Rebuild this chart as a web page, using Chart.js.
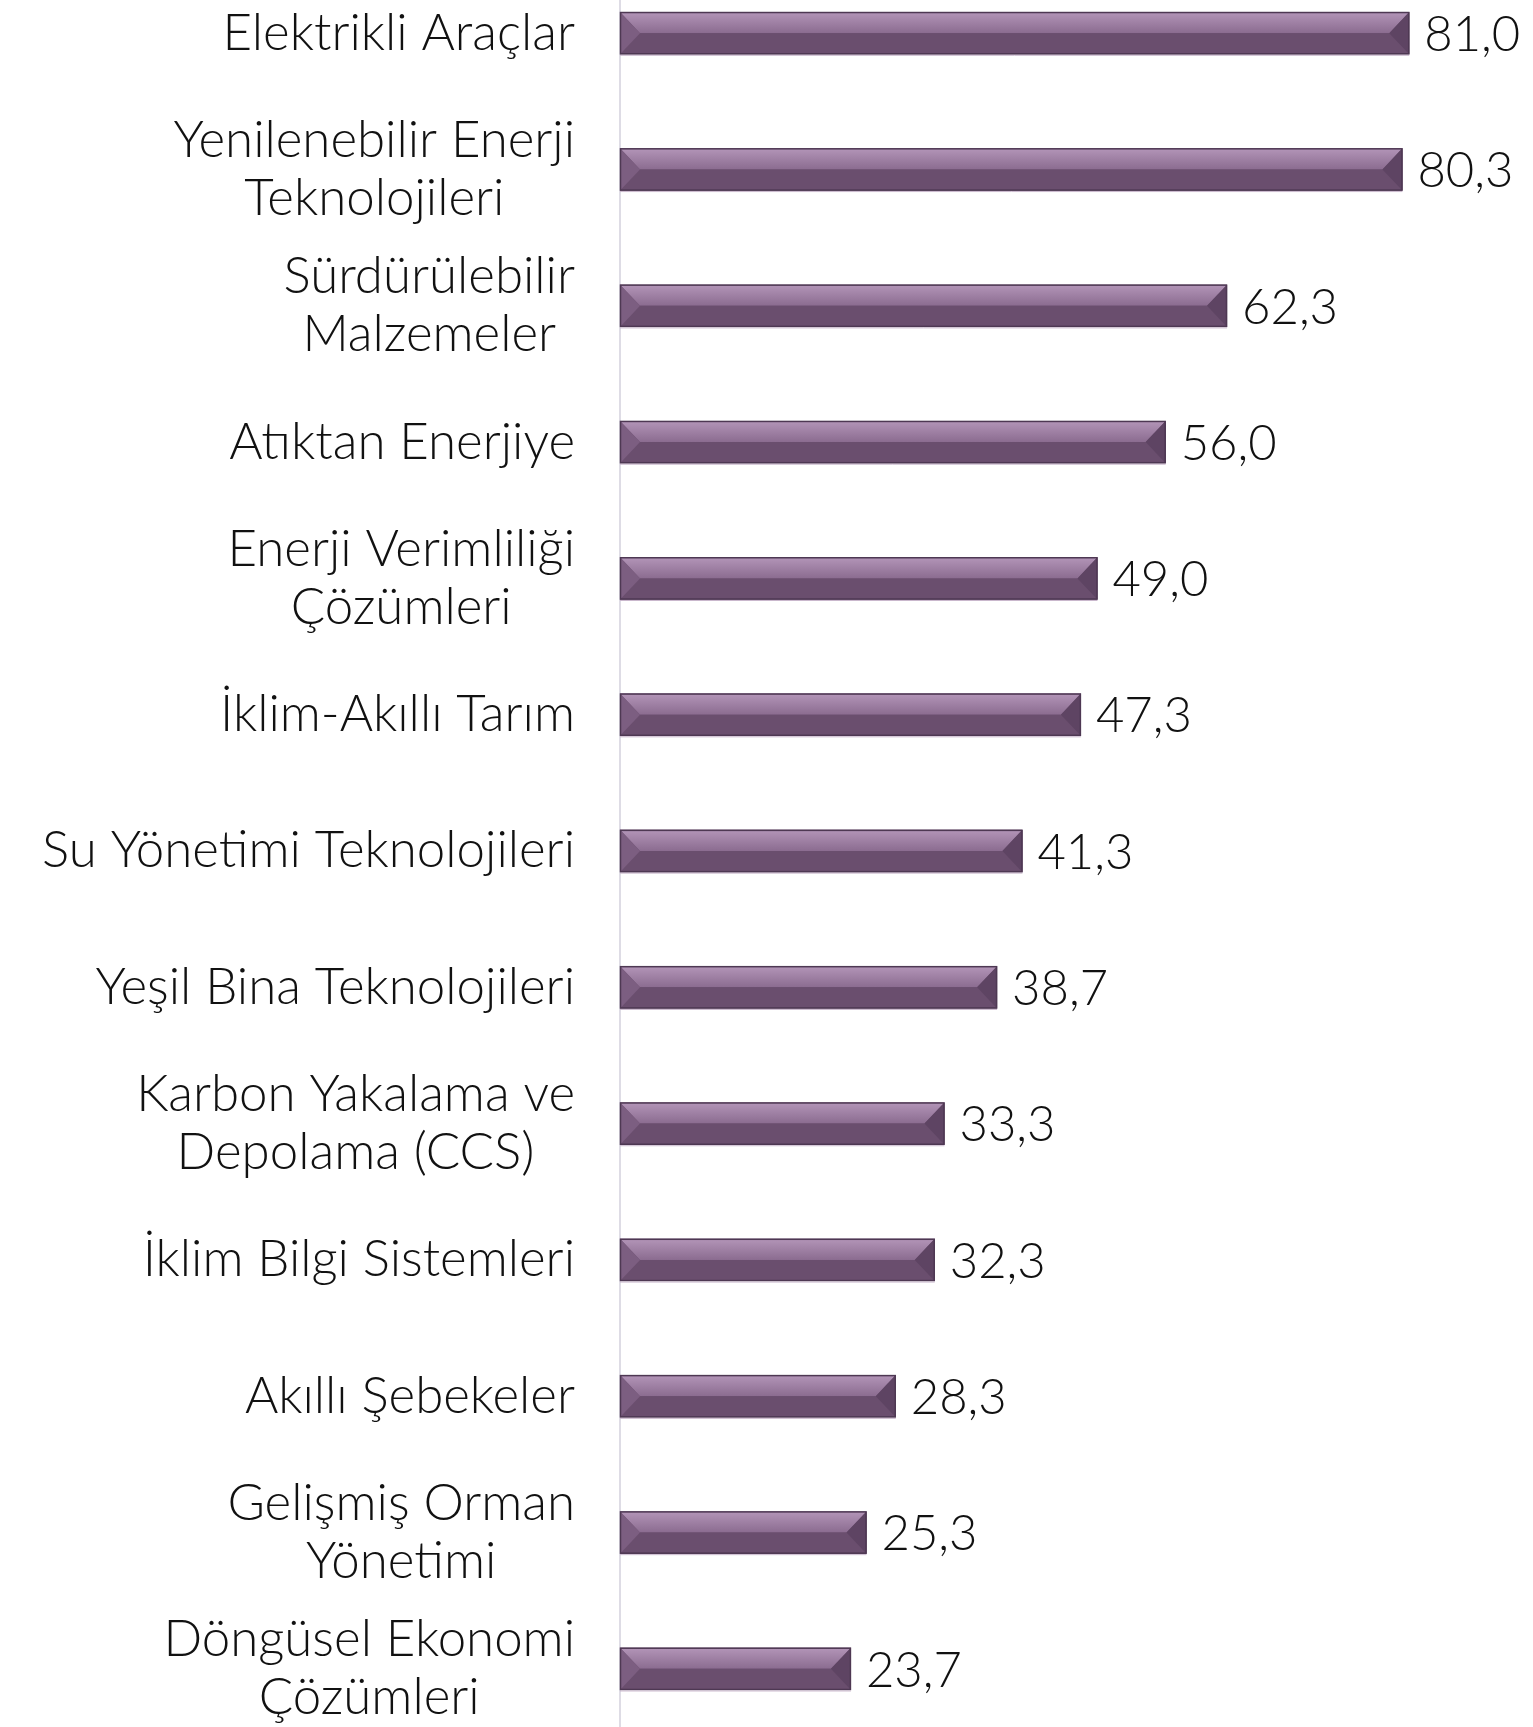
<!DOCTYPE html>
<html>
<head>
<meta charset="utf-8">
<script src="https://cdn.jsdelivr.net/npm/chart.js@4"></script>
<style>
  html, body { margin: 0; padding: 0; background: #fff; }
  body { width: 1533px; height: 1727px; overflow: hidden; position: relative; }
  #wrap { position: absolute; left: 0; top: -35px; width: 1533px; height: 1772px; }
</style>
</head>
<body>
<div id="wrap"><canvas id="myChart"></canvas></div>
<script>
const categories = [
  ["Elektrikli Araçlar"],
  ["Yenilenebilir Enerji", "Teknolojileri"],
  ["Sürdürülebilir", "Malzemeler"],
  ["Atıktan Enerjiye"],
  ["Enerji Verimliliği", "Çözümleri"],
  ["İklim-Akıllı Tarım"],
  ["Su Yönetimi Teknolojileri"],
  ["Yeşil Bina Teknolojileri"],
  ["Karbon Yakalama ve", "Depolama (CCS)"],
  ["İklim Bilgi Sistemleri"],
  ["Akıllı Şebekeler"],
  ["Gelişmiş Orman", "Yönetimi"],
  ["Döngüsel Ekonomi", "Çözümleri"],
];
const values = [81.0, 80.3, 62.3, 56.0, 49.0, 47.3, 41.3, 38.7, 33.3, 32.3, 28.3, 25.3, 23.7];

const FONT = "Lato, 'Open Sans', sans-serif";

// labels: block right aligned, lines centered inside the block
const sideLabels = {
  id: "sideLabels",
  afterDraw(chart) {
    const ctx = chart.ctx;
    const yScale = chart.scales.y;
    const right = 575;
    const lineH = 58;
    ctx.save();
    ctx.font = "300 51px " + FONT;
    ctx.fillStyle = "#111";
    ctx.textAlign = "center";
    ctx.textBaseline = "middle";
    categories.forEach((lines, i) => {
      const cy = yScale.getPixelForValue(i);
      const widest = Math.max(...lines.map(l => ctx.measureText(l).width));
      const cx = right - widest / 2;
      const y0 = cy - (lines.length - 1) * lineH / 2;
      lines.forEach((l, k) => ctx.fillText(l, cx, y0 + k * lineH));
    });
    ctx.restore();
  }
};

// bevel look + value labels
const bevelBars = {
  id: "bevelBars",
  afterDatasetsDraw(chart) {
    const ctx = chart.ctx;
    const meta = chart.getDatasetMeta(0);
    ctx.save();
    meta.data.forEach((bar, i) => {
      const x0 = bar.base, x1 = bar.x;
      const h = bar.height, top = bar.y - h / 2, bot = bar.y + h / 2, mid = bar.y;
      const d = 20;
      // top face
      const g = ctx.createLinearGradient(0, top, 0, mid);
      g.addColorStop(0, "#b395b8");
      g.addColorStop(1, "#8b6c90");
      ctx.fillStyle = g;
      ctx.beginPath();
      ctx.moveTo(x0, top); ctx.lineTo(x1, top); ctx.lineTo(x1 - d, mid); ctx.lineTo(x0 + d, mid);
      ctx.closePath(); ctx.fill();
      // bottom face
      ctx.fillStyle = "#6a4e6e";
      ctx.beginPath();
      ctx.moveTo(x0 + d, mid); ctx.lineTo(x1 - d, mid); ctx.lineTo(x1, bot); ctx.lineTo(x0, bot);
      ctx.closePath(); ctx.fill();
      // left face
      ctx.fillStyle = "#7c5e81";
      ctx.beginPath();
      ctx.moveTo(x0, top); ctx.lineTo(x0 + d, mid); ctx.lineTo(x0, bot);
      ctx.closePath(); ctx.fill();
      // right face
      ctx.fillStyle = "#5e4463";
      ctx.beginPath();
      ctx.moveTo(x1, top); ctx.lineTo(x1, bot); ctx.lineTo(x1 - d, mid);
      ctx.closePath(); ctx.fill();
      // outline
      ctx.strokeStyle = "#4e3853";
      ctx.lineWidth = 1.5;
      ctx.strokeRect(x0 + 0.5, top + 0.5, x1 - x0 - 1, h - 1);
      ctx.strokeStyle = "#c9b7cc";
      ctx.lineWidth = 1;
      ctx.beginPath();
      ctx.moveTo(x0, bot + 1); ctx.lineTo(x1, bot + 1);
      ctx.stroke();

      // value label
      ctx.font = "300 49px " + FONT;
      ctx.fillStyle = "#111";
      ctx.textAlign = "left";
      ctx.textBaseline = "middle";
      ctx.fillText(values[i].toFixed(1).replace(".", ","), x1 + 15, mid + 2);
    });
    ctx.restore();
  }
};

const ctx = document.getElementById("myChart");
new Chart(ctx, {
  type: "bar",
  data: {
    labels: categories,
    datasets: [
      {
        data: values,
        backgroundColor: "#6a4e6e",
        borderWidth: 0,
        barPercentage: 0.31,
        categoryPercentage: 1,
      },
    ],
  },
  options: {
    indexAxis: "y",
    responsive: true,
    maintainAspectRatio: false,
    animation: false,
    layout: { padding: 0 },
    plugins: {
      legend: { display: false },
      tooltip: { enabled: false },
    },
    scales: {
      x: {
        display: false,
        min: 0,
        max: 93.7,
      },
      y: {
        grid: { display: false },
        border: { display: true, color: "#dedce5", width: 2 },
        ticks: { display: false },
        afterFit(scale) {
          scale.width = 620;
        },
      },
    },
  },
  plugins: [bevelBars, sideLabels],
});
</script>
</body>
</html>
